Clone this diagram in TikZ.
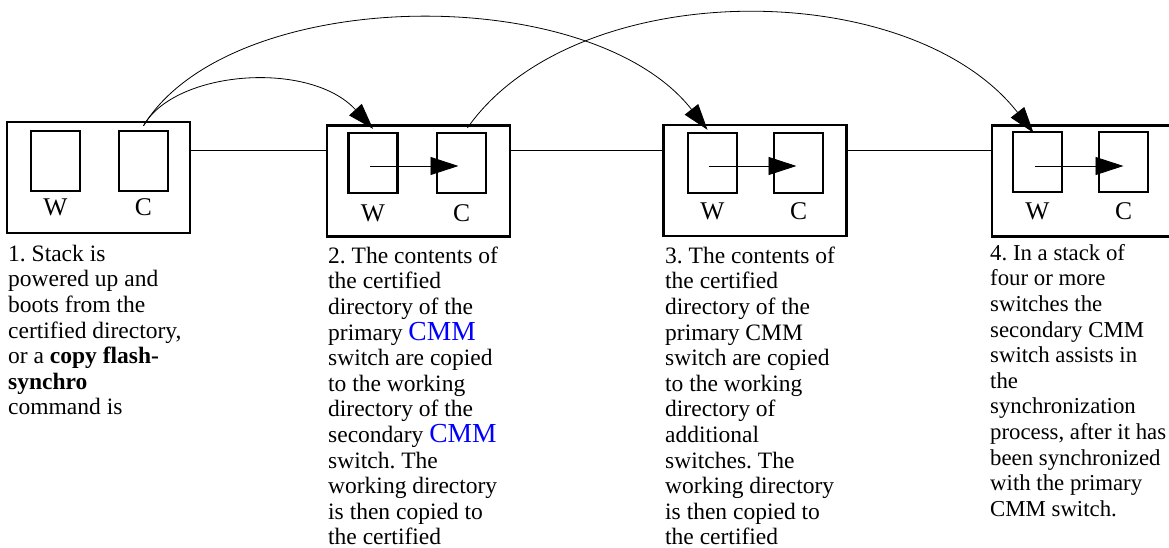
\documentclass[tikz,border=0pt]{standalone}
\usepackage{fontspec}
\setmainfont{Liberation Serif}
\usetikzlibrary{arrows.meta}
\frenchspacing
\newcommand\bluecmm{{\fontsize{27.5}{25.7}\selectfont\color{blue}CMM}}
\begin{document}
\begin{tikzpicture}[x=1pt,y=-1pt,
  obox/.style={draw, line width=2.4pt, minimum width=183pt, minimum height=111pt, inner sep=0pt},
  ibox/.style={draw, line width=2.4pt, minimum width=49pt, minimum height=60pt, inner sep=0pt},
  lbl/.style={font=\fontsize{25.5}{28}\selectfont, inner sep=0pt, anchor=base},
  desc/.style={font=\fontsize{23.5}{25.6}\selectfont, align=left, inner sep=0pt, anchor=north west},
  link/.style={line width=0.9pt},
  jump/.style={line width=0.8pt, -{Triangle[length=26pt,width=17pt]}},
  cparrow/.style={line width=0.8pt, -{Triangle[length=28pt,width=18pt]}},
]
\clip (0,0) rectangle (1169,548);

% outer boxes
\node[obox] (b1) at (98.5,177.5) {};
\node[obox] (b2) at (418.5,181) {};
\node[obox] (b3) at (755,180.5) {};
\node[obox] (b4) at (1083.5,181) {};

% inner boxes
\node[ibox] (b1w) at (55.5,161) {};
\node[ibox] (b1c) at (143.5,161) {};
\node[ibox] (b2w) at (373,163) {};
\node[ibox] (b2c) at (461.5,163) {};
\node[ibox] (b3w) at (712.5,163) {};
\node[ibox] (b3c) at (798.5,163) {};
\node[ibox] (b4w) at (1037.5,162) {};
\node[ibox] (b4c) at (1123.5,162) {};

% labels
\node[lbl] (l1w) at ([yshift=-23pt]b1w.south) {W};
\node[lbl] (l1c) at ([yshift=-23pt]b1c.south) {C};
\node[lbl] (l2w) at ([yshift=-27pt]b2w.south) {W};
\node[lbl] (l2c) at ([yshift=-27pt]b2c.south) {C};
\node[lbl] (l3w) at ([yshift=-25pt]b3w.south) {W};
\node[lbl] (l3c) at ([yshift=-25pt]b3c.south) {C};
\node[lbl] (l4w) at ([yshift=-26pt]b4w.south) {W};
\node[lbl] (l4c) at ([yshift=-26pt]b4c.south) {C};

% links between boxes
\draw[link] (b1.east |- 0,150) -- (b2.west |- 0,150);
\draw[link] (b2.east |- 0,150) -- (b3.west |- 0,150);
\draw[link] (b3.east |- 0,150) -- (b4.west |- 0,150);

% copy arrows inside boxes
\draw[cparrow] ([yshift=-3pt,xshift=-3pt]b2w.center) -- ([yshift=-3pt,xshift=-3pt]b2c.center);
\draw[cparrow] ([yshift=-3pt,xshift=-4pt]b3w.center) -- ([yshift=-3pt,xshift=-2pt]b3c.center);
\draw[cparrow] ([yshift=-4pt,xshift=-3pt]b4w.center) -- ([yshift=-4pt]b4c.center);

% arcs
\draw[jump] ([yshift=4pt]b1c.north) .. controls (175,70) and (310,60) .. ([yshift=3pt]b2w.north);
\draw[jump] ([yshift=4pt]b1c.north) .. controls (230,-15) and (590,-20) .. ([xshift=-5pt,yshift=2pt]b3w.north);
\draw[jump] ([yshift=4pt,xshift=6pt]b2c.north) .. controls (575,-25) and (910,-25) .. ([xshift=-4pt,yshift=-2pt]b4w.north);

% descriptions
\node[desc] (t1) at (8,244) {\rule{0pt}{17pt}1. Stack is\\powered up and\\boots from the\\certified directory,\\or a \textbf{copy flash-}\\\textbf{synchro}\\command is};
\node[desc] (t2) at (328,246) {\rule{0pt}{17pt}2. The contents of\\the certified\\directory of the\\primary \bluecmm\\switch are copied\\to the working\\directory of the\\secondary \bluecmm\\switch. The\\working directory\\is then copied to\\the certified};
\node[desc] (t3) at (665,246) {\rule{0pt}{17pt}3. The contents of\\the certified\\directory of the\\primary CMM\\switch are copied\\to the working\\directory of\\additional\\switches. The\\working directory\\is then copied to\\the certified};
\node[desc, font=\fontsize{22.8}{25.6}\selectfont] (t4) at (990,243) {\rule{0pt}{17pt}4. In a stack of\\four or more\\switches the\\secondary CMM\\switch assists in\\the\\synchronization\\process, after it has\\been synchronized\\with the primary\\CMM switch.};
\end{tikzpicture}
\end{document}
